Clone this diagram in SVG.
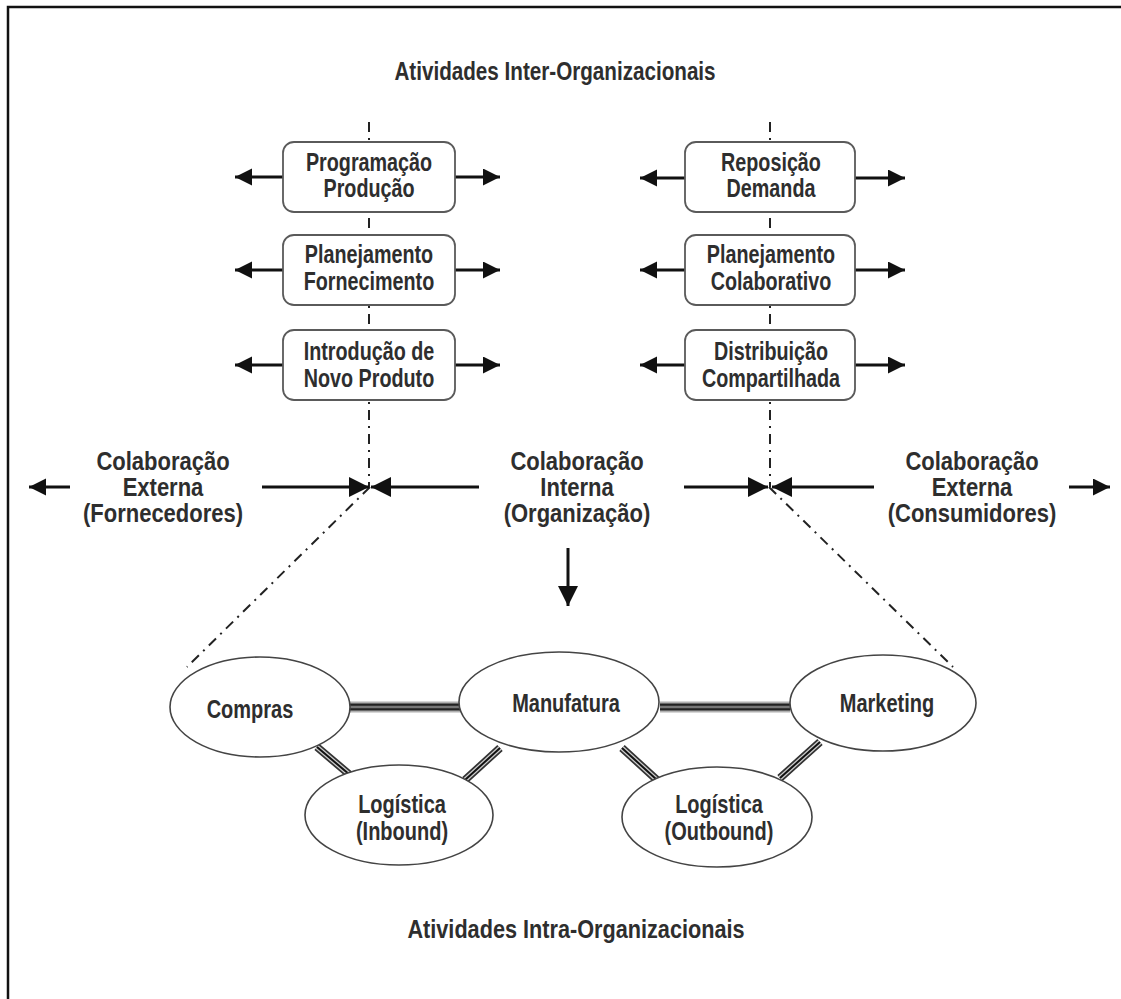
<svg xmlns="http://www.w3.org/2000/svg" width="1121" height="999" viewBox="0 0 1121 999">
<style>
text{font-family:"Liberation Sans",Arial,sans-serif;font-weight:bold;font-size:25px;fill:#2e2e2e;text-anchor:middle}
.title{font-size:25.5px}
.box{fill:#fff;stroke:#5a5a5a;stroke-width:1.8}
.ell{fill:#fff;stroke:#444;stroke-width:1.6}
.dd{stroke:#222;stroke-width:2;fill:none;stroke-dasharray:10 6 2 6}
.arr{stroke:#111;stroke-width:3;fill:none}
.h1{stroke:#b0b0b0;stroke-width:11;fill:none}
.h2{stroke:#222;stroke-width:7;fill:none}
.h3{stroke:#777;stroke-width:2.5;fill:none}
.d1{stroke:#333;stroke-width:8;fill:none}
.d2{stroke:#ccc;stroke-width:4.5;fill:none}
.d3{stroke:#111;stroke-width:2;fill:none}
</style>
<defs>
<marker id="ah" markerUnits="userSpaceOnUse" markerWidth="20" markerHeight="20" refX="17" refY="8.5" orient="auto">
<path d="M0,0 L17,8.5 L0,17 Z" fill="#111"/>
</marker>
<marker id="ahL" markerUnits="userSpaceOnUse" markerWidth="24" markerHeight="24" refX="20" refY="10" orient="auto">
<path d="M0,0 L20,10 L0,20 Z" fill="#111"/>
</marker>
</defs>
<rect width="1121" height="999" fill="#fff"/>
<g id="frame">
<path d="M8,999 V7 H1121" fill="none" stroke="#111" stroke-width="2.5"/>
</g>
<g id="titles">
<g transform="translate(555 0) scale(0.81 1)"><text class="title" x="0" y="80">Atividades Inter-Organizacionais</text></g>
<g transform="translate(576 0) scale(0.85 1)"><text class="title" x="0" y="938">Atividades Intra-Organizacionais</text></g>
</g>
<g id="connectors">
<path class="dd" d="M369,122 V487"/>
<path class="dd" d="M770,122 V487"/>
<path class="dd" d="M370,487 L187,667"/>
<path class="dd" d="M769,487 L953,667"/>
<g id="box-arrows">
<path class="arr" marker-end="url(#ah)" d="M283,177 H235"/>
<path class="arr" marker-end="url(#ah)" d="M455,177 H500"/>
<path class="arr" marker-end="url(#ah)" d="M283,270 H235"/>
<path class="arr" marker-end="url(#ah)" d="M455,270 H500"/>
<path class="arr" marker-end="url(#ah)" d="M283,365 H235"/>
<path class="arr" marker-end="url(#ah)" d="M455,365 H500"/>
<path class="arr" marker-end="url(#ah)" d="M685,178 H640"/>
<path class="arr" marker-end="url(#ah)" d="M855,178 H905"/>
<path class="arr" marker-end="url(#ah)" d="M685,270 H640"/>
<path class="arr" marker-end="url(#ah)" d="M855,270 H905"/>
<path class="arr" marker-end="url(#ah)" d="M685,365 H640"/>
<path class="arr" marker-end="url(#ah)" d="M855,365 H905"/>
</g>
<g id="mid-arrows">
<path class="arr" marker-end="url(#ah)" d="M70,487 H29"/>
<path class="arr" marker-end="url(#ahL)" d="M262,487 H369"/>
<path class="arr" marker-end="url(#ahL)" d="M479,487 H371"/>
<path class="arr" marker-end="url(#ahL)" d="M684,487 H768"/>
<path class="arr" marker-end="url(#ahL)" d="M874,487 H772"/>
<path class="arr" marker-end="url(#ah)" d="M1069,487 H1110"/>
<path class="arr" marker-end="url(#ahL)" d="M568,548 V606"/>
</g>
<g id="links">
<path class="h1" d="M350,707 H460 M660,707 H790"/>
<path class="h2" d="M350,707 H460 M660,707 H790"/>
<path class="h3" d="M350,707 H460 M660,707 H790"/>
<path class="d1" d="M317,747 L350,775 M500,748 L465,780 M622,748 L657,780 M820,742 L780,778"/>
<path class="d2" d="M317,747 L350,775 M500,748 L465,780 M622,748 L657,780 M820,742 L780,778"/>
<path class="d3" d="M317,747 L350,775 M500,748 L465,780 M622,748 L657,780 M820,742 L780,778"/>
</g>
</g>
<g id="box-programacao"><rect class="box" x="283" y="142" width="172" height="70" rx="11"/><g transform="translate(369 0) scale(0.79 1)"><text x="0" y="171">Programação</text><text x="0" y="197">Produção</text></g></g>
<g id="box-planejamento-fornecimento"><rect class="box" x="283" y="235" width="172" height="70" rx="11"/><g transform="translate(369 0) scale(0.79 1)"><text x="0" y="263">Planejamento</text><text x="0" y="290">Fornecimento</text></g></g>
<g id="box-introducao"><rect class="box" x="283" y="330" width="172" height="70" rx="11"/><g transform="translate(369 0) scale(0.79 1)"><text x="0" y="360">Introdução de</text><text x="0" y="387">Novo Produto</text></g></g>
<g id="box-reposicao"><rect class="box" x="685" y="142" width="170" height="70" rx="11"/><g transform="translate(771 0) scale(0.79 1)"><text x="0" y="171">Reposição</text><text x="0" y="197">Demanda</text></g></g>
<g id="box-planejamento-colaborativo"><rect class="box" x="685" y="235" width="170" height="70" rx="11"/><g transform="translate(771 0) scale(0.79 1)"><text x="0" y="263">Planejamento</text><text x="0" y="290">Colaborativo</text></g></g>
<g id="box-distribuicao"><rect class="box" x="685" y="330" width="170" height="70" rx="11"/><g transform="translate(771 0) scale(0.79 1)"><text x="0" y="360">Distribuição</text><text x="0" y="387">Compartilhada</text></g></g>
<g id="label-externa-fornecedores"><g transform="translate(163 0) scale(0.88 1)"><text x="0" y="470">Colaboração</text><text x="0" y="496">Externa</text><text x="0" y="522">(Fornecedores)</text></g></g>
<g id="label-interna"><g transform="translate(577 0) scale(0.88 1)"><text x="0" y="470">Colaboração</text><text x="0" y="496">Interna</text><text x="0" y="522">(Organização)</text></g></g>
<g id="label-externa-consumidores"><g transform="translate(972 0) scale(0.88 1)"><text x="0" y="470">Colaboração</text><text x="0" y="496">Externa</text><text x="0" y="522">(Consumidores)</text></g></g>
<g id="node-compras"><ellipse class="ell" cx="260" cy="707" rx="90" ry="50"/><g transform="translate(250 0) scale(0.8 1)"><text x="0" y="718">Compras</text></g></g>
<g id="node-manufatura"><ellipse class="ell" cx="559" cy="702" rx="100" ry="50"/><g transform="translate(566 0) scale(0.8 1)"><text x="0" y="712">Manufatura</text></g></g>
<g id="node-marketing"><ellipse class="ell" cx="883" cy="703" rx="93" ry="48"/><g transform="translate(887 0) scale(0.8 1)"><text x="0" y="712">Marketing</text></g></g>
<g id="node-logistica-inbound"><ellipse class="ell" cx="399" cy="815" rx="94" ry="50"/><g transform="translate(402 0) scale(0.8 1)"><text x="0" y="813">Logística</text><text x="0" y="840">(Inbound)</text></g></g>
<g id="node-logistica-outbound"><ellipse class="ell" cx="717" cy="817" rx="95" ry="50"/><g transform="translate(719 0) scale(0.8 1)"><text x="0" y="813">Logística</text><text x="0" y="840">(Outbound)</text></g></g>
</svg>
